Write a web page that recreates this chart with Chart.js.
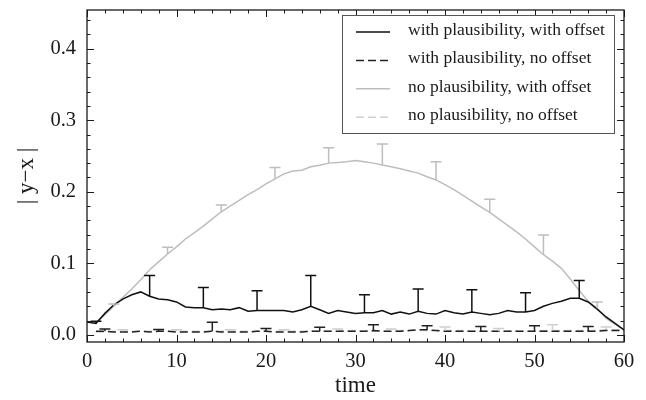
<!DOCTYPE html>
<html>
<head>
<meta charset="utf-8">
<script src="https://cdn.jsdelivr.net/npm/chart.js@4"></script>
<style>
  html, body { margin: 0; padding: 0; background: #fff; }
</style>
</head>
<body>
<canvas id="errChart" width="646" height="400"></canvas>
<script>
const time = [0,1,2,3,4,5,6,7,8,9,10,11,12,13,14,15,16,17,18,19,20,21,22,23,24,25,26,27,28,29,30,
  31,32,33,34,35,36,37,38,39,40,41,42,43,44,45,46,47,48,49,50,51,52,53,54,55,56,57,58,59,60];

const plausOffset = [0.018,0.016,0.030,0.042,0.050,0.056,0.060,0.054,0.050,0.049,0.046,
  0.039,0.038,0.038,0.035,0.036,0.035,0.038,0.033,0.034,0.034,
  0.034,0.034,0.032,0.035,0.040,0.035,0.030,0.034,0.032,0.030,
  0.031,0.031,0.034,0.029,0.032,0.029,0.033,0.030,0.029,0.034,
  0.031,0.029,0.032,0.030,0.028,0.030,0.034,0.032,0.032,0.034,
  0.040,0.044,0.047,0.051,0.051,0.046,0.036,0.025,0.016,0.007];

const plausNoOffset = [null,0.005,0.005,0.004,0.004,0.004,0.005,0.004,0.005,0.005,0.004,
  0.004,0.004,0.004,0.005,0.004,0.004,0.004,0.004,0.005,0.005,
  0.004,0.004,0.004,0.004,0.005,0.005,0.005,0.005,0.005,0.005,
  0.005,0.006,0.005,0.005,0.005,0.006,0.007,0.007,0.006,0.005,
  0.005,0.005,0.005,0.005,0.005,0.005,0.005,0.005,0.005,0.005,
  0.005,0.005,0.005,0.005,0.005,0.005,0.005,0.006,0.006,0.006];

const noPlausOffset = [0.018,0.017,0.028,0.040,0.052,0.064,0.077,0.091,0.102,0.113,0.123,
  0.134,0.143,0.152,0.162,0.172,0.180,0.188,0.196,0.203,0.211,
  0.218,0.225,0.229,0.230,0.235,0.237,0.240,0.241,0.242,0.2435,
  0.242,0.240,0.2375,0.235,0.232,0.229,0.226,0.221,0.2165,0.210,
  0.203,0.195,0.187,0.179,0.171,0.162,0.153,0.144,0.134,0.123,
  0.112,0.103,0.093,0.078,0.062,0.047,0.037,0.023,0.015,0.007];

const noPlausNoOffset = [null,0.004,0.004,0.005,0.005,0.005,0.005,0.005,0.005,0.005,0.005,
  0.005,0.005,0.005,0.005,0.005,0.005,0.005,0.005,0.005,0.005,
  0.005,0.005,0.005,0.005,0.005,0.005,0.005,0.006,0.006,0.006,
  0.005,0.005,0.005,0.005,0.006,0.006,0.006,0.006,0.006,0.006,
  0.006,0.006,0.005,0.005,0.005,0.005,0.005,0.005,0.005,0.005,
  0.006,0.006,0.006,0.006,0.006,0.006,0.006,0.007,0.007,0.007];

// upper ends of the error bars
const plausOffsetErrT = [1,7,13,19,25,31,37,43,49,55];
const plausOffsetErrTop = [0.019,0.083,0.066,0.0615,0.083,0.056,0.064,0.063,0.059,0.076];
const plausNoOffsetErrT = [2,8,14,20,26,32,38,44,50,56];
const plausNoOffsetErrTop = [0.008,0.0075,0.0177,0.0088,0.0107,0.014,0.0126,0.0116,0.0126,0.0116];
const noPlausOffsetErrT = [3,9,15,21,27,33,39,45,51,57];
const noPlausOffsetErrTop = [0.043,0.1225,0.1815,0.234,0.2615,0.2667,0.242,0.1895,0.1397,0.046];
const noPlausNoOffsetErrT = [4,10,16,22,28,34,40,46,52,58];
const noPlausNoOffsetErrTop = [0.007,0.007,0.007,0.007,0.008,0.008,0.011,0.009,0.014,0.011];

const seriesLabels = ['with plausibility, with offset', 'with plausibility, no offset',
  'no plausibility, with offset', 'no plausibility, no offset'];

const xTicks = [0,10,20,30,40,50,60];
const yTicks = [0.0,0.1,0.2,0.3,0.4];

const serif = '"Liberation Serif", "Times New Roman", serif';
const ink = '#1a1a1a';

function points(vals) {
    return time.map((t, i) => ({x: t, y: vals[i]}));
}

// vertical error bars with a cap on the upper end
const errorBars = {
    id: 'errorBars',
    afterDatasetsDraw(chart) {
        const {ctx, scales: {x, y}} = chart;
        chart.data.datasets.forEach(ds => {
            ctx.save();
            ctx.strokeStyle = ds.borderColor;
            ctx.lineWidth = 1.5;
            ds.errT.forEach((t, i) => {
                const v = ds.data[time.indexOf(t)].y;
                const px = x.getPixelForValue(t);
                const y0 = y.getPixelForValue(v);
                const y1 = y.getPixelForValue(ds.errTop[i]);
                ctx.beginPath();
                ctx.moveTo(px, y0);
                ctx.lineTo(px, y1);
                ctx.moveTo(px - 5.5, y1);
                ctx.lineTo(px + 5.5, y1);
                ctx.stroke();
            });
            ctx.restore();
        });
    }
};

// frame with inward ticks on all four sides, plus the boxed legend
const frame = {
    id: 'frame',
    afterDraw(chart) {
        const {ctx, chartArea: a, scales: {x, y}} = chart;
        ctx.save();
        ctx.strokeStyle = ink;
        ctx.lineWidth = 1.3;
        ctx.strokeRect(a.left, a.top, a.right - a.left, a.bottom - a.top);
        ctx.lineWidth = 1;
        ctx.beginPath();
        for (let t = 0; t <= 60; t += 2) {
            const px = Math.round(x.getPixelForValue(t)) + 0.5;
            const len = t % 10 === 0 ? 7 : 3.5;
            ctx.moveTo(px, a.bottom); ctx.lineTo(px, a.bottom - len);
            ctx.moveTo(px, a.top); ctx.lineTo(px, a.top + len);
        }
        for (let k = 0; k <= 22; k++) {
            const py = Math.round(y.getPixelForValue(k * 0.02)) + 0.5;
            const len = k % 5 === 0 ? 7 : 3.5;
            ctx.moveTo(a.left, py); ctx.lineTo(a.left + len, py);
            ctx.moveTo(a.right, py); ctx.lineTo(a.right - len, py);
        }
        ctx.stroke();

        // legend
        const bx = 342, by = 15, bw = 272, bh = 118;
        ctx.fillStyle = '#fff';
        ctx.fillRect(bx, by, bw, bh);
        ctx.strokeStyle = '#555';
        ctx.lineWidth = 1;
        ctx.strokeRect(bx + 0.5, by + 0.5, bw, bh);
        ctx.font = '17.5px ' + serif;
        ctx.textBaseline = 'alphabetic';
        chart.data.datasets.forEach((ds, i) => {
            const ly = 32 + i * 28.4;
            ctx.strokeStyle = ds.borderColor;
            ctx.lineWidth = 1.5;
            ctx.setLineDash(ds.borderDash || []);
            ctx.beginPath();
            ctx.moveTo(356, ly);
            ctx.lineTo(390, ly);
            ctx.stroke();
            ctx.setLineDash([]);
            ctx.fillStyle = ink;
            ctx.fillText(ds.label, 408, ly + 3);
        });
        ctx.restore();
    }
};

const ctx = document.getElementById('errChart').getContext('2d');
new Chart(ctx, {
    type: 'line',
    data: {
        datasets: [
            {label: seriesLabels[0], data: points(plausOffset), borderColor: '#111111', borderWidth: 1.5,
             errT: plausOffsetErrT, errTop: plausOffsetErrTop},
            {label: seriesLabels[1], data: points(plausNoOffset), borderColor: '#222222', borderWidth: 1.5,
             borderDash: [8, 4], errT: plausNoOffsetErrT, errTop: plausNoOffsetErrTop},
            {label: seriesLabels[2], data: points(noPlausOffset), borderColor: '#bdbdbd', borderWidth: 1.5,
             errT: noPlausOffsetErrT, errTop: noPlausOffsetErrTop},
            {label: seriesLabels[3], data: points(noPlausNoOffset), borderColor: '#cfcfcf', borderWidth: 1.5,
             borderDash: [8, 4], errT: noPlausNoOffsetErrT, errTop: noPlausNoOffsetErrTop}
        ]
    },
    options: {
        responsive: false,
        animation: false,
        layout: {padding: {top: 10, right: 22, left: 0, bottom: 0}},
        elements: {point: {radius: 0}, line: {tension: 0}},
        plugins: {legend: {display: false}, tooltip: {enabled: false}},
        scales: {
            x: {
                type: 'linear', min: 0, max: 60,
                grid: {display: false, drawTicks: false},
                border: {display: false},
                ticks: {font: {family: serif, size: 20.5}, color: ink, padding: 7, maxRotation: 0},
                afterBuildTicks: s => { s.ticks = xTicks.map(v => ({value: v})); },
                afterFit: s => { s.height = 58; },
                title: {display: true, text: 'time', font: {family: serif, size: 23}, color: ink,
                        padding: {top: 0, bottom: 0}}
            },
            y: {
                type: 'linear', min: -0.01, max: 0.454,
                grid: {display: false, drawTicks: false},
                border: {display: false},
                ticks: {font: {family: serif, size: 20.5}, color: ink, padding: 11,
                        callback: v => v.toFixed(1)},
                afterBuildTicks: s => { s.ticks = yTicks.map(v => ({value: v})); },
                afterFit: s => { s.width = 87; s.paddingTop = 0; s.paddingBottom = 0; },
                title: {display: true, text: '| y\u2212x |', font: {family: serif, size: 23}, color: ink,
                        padding: {top: 13, bottom: 0}}
            }
        }
    },
    plugins: [errorBars, frame]
});
</script>
</body>
</html>
